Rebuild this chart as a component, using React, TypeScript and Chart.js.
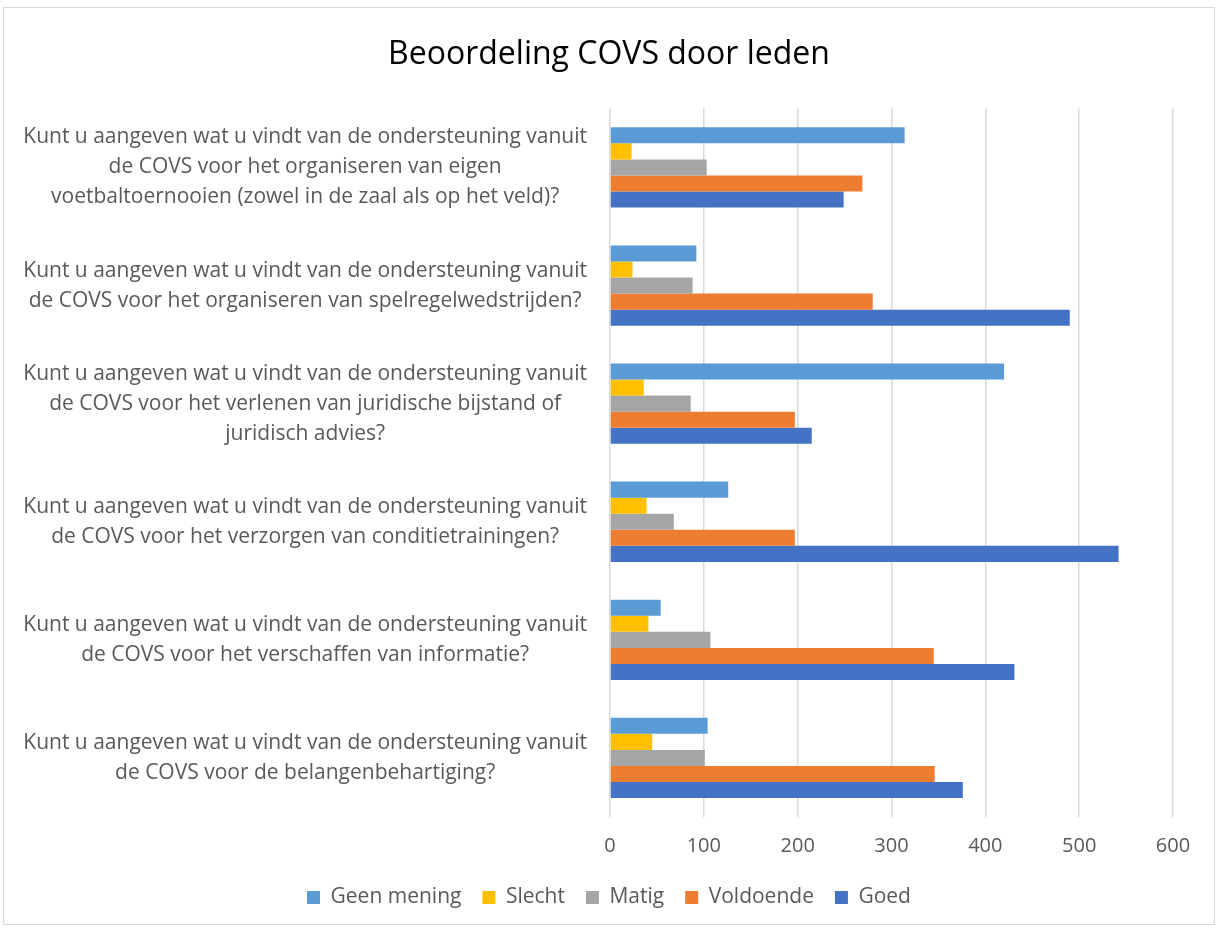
import React, { useEffect, useRef } from "react";
import { Chart, registerables } from "chart.js";

Chart.register(...registerables);

const categories: string[][] = [
  ["Kunt u aangeven wat u vindt van de ondersteuning vanuit", "de COVS voor het organiseren van eigen", "voetbaltoernooien (zowel in de zaal als op het veld)?"],
  ["Kunt u aangeven wat u vindt van de ondersteuning vanuit", "de COVS voor het organiseren van spelregelwedstrijden?"],
  ["Kunt u aangeven wat u vindt van de ondersteuning vanuit", "de COVS voor het verlenen van juridische bijstand of", "juridisch advies?"],
  ["Kunt u aangeven wat u vindt van de ondersteuning vanuit", "de COVS voor het verzorgen van conditietrainingen?"],
  ["Kunt u aangeven wat u vindt van de ondersteuning vanuit", "de COVS voor het verschaffen van informatie?"],
  ["Kunt u aangeven wat u vindt van de ondersteuning vanuit", "de COVS voor de belangenbehartiging?"],
];

const seriesNames = ["Geen mening", "Slecht", "Matig", "Voldoende", "Goed"];
const geenMening = [314, 92, 420, 126, 54, 104];
const slecht = [23, 24, 36, 39, 41, 45];
const matig = [103, 88, 86, 68, 107, 101];
const voldoende = [269, 280, 197, 197, 345, 346];
const goed = [249, 490, 215, 542, 431, 376];
const colors = ["#5B9BD5", "#FFC000", "#A5A5A5", "#ED7D31", "#4472C4"];

const xMin = 0;
const xMax = 600;
const xStep = 100;

const FONT = "'Open Sans', 'Noto Sans', sans-serif";

const PAD_LEFT = 41;
const CANVAS_LEFT = 4;
const PLOT_LEFT = 610;

export default function App() {
  const ref = useRef<HTMLCanvasElement | null>(null);
  useEffect(() => {
    if (!ref.current) return;
    const values = [geenMening, slecht, matig, voldoende, goed];
    const chart = new Chart(ref.current, {
      type: "bar",
      data: {
        labels: categories,
        datasets: seriesNames.map((name, i) => ({
          label: name,
          data: values[i],
          backgroundColor: colors[i],
          borderWidth: 0,
          categoryPercentage: 0.68,
          barPercentage: 1.0,
        })),
      },
      options: {
        indexAxis: "y",
        animation: false,
        responsive: true,
        maintainAspectRatio: false,
        layout: { padding: { left: PAD_LEFT, right: 41, top: 20, bottom: 6 } },
        plugins: {
          title: {
            display: true,
            text: "Beoordeling COVS door leden",
            color: "#000000",
            font: { family: FONT, size: 32, weight: "normal" },
            padding: { top: 8, bottom: 34 },
          },
          legend: {
            position: "bottom",
            labels: {
              color: "#595959",
              font: { family: FONT, size: 21 },
              boxWidth: 13,
              boxHeight: 13,
              padding: 21,
            },
          },
          tooltip: { enabled: false },
        },
        scales: {
          x: {
            min: xMin,
            max: xMax,
            afterFit: (scale: any) => {
              scale.height -= 9;
            },
            ticks: {
              stepSize: xStep,
              color: "#595959",
              font: { family: FONT, size: 20 },
              padding: 17,
            },
            grid: { color: "#D9D9D9", lineWidth: 1.5, drawTicks: false },
            border: { display: false },
          },
          y: {
            afterFit: (scale: any) => {
              scale.width = PLOT_LEFT - CANVAS_LEFT - PAD_LEFT;
              // let the long category labels extend past the axis box
              scale._computeLabelArea = () => undefined;
            },
            ticks: {
              color: "#595959",
              font: { family: FONT, size: 21, lineHeight: 1.43 },
              crossAlign: "center",
              padding: 23,
            },
            grid: { display: false, drawTicks: false },
            border: { display: false },
          },
        },
      },
    });
    return () => chart.destroy();
  }, []);

  return (
    <div style={{ position: "absolute", left: 0, top: 0, width: 1217, height: 928, background: "#fff" }}>
      <div
        style={{
          position: "absolute",
          left: 3,
          top: 7,
          width: 1212,
          height: 918,
          border: "1px solid #D9D9D9",
          boxSizing: "border-box",
        }}
      />
      <div style={{ position: "absolute", left: CANVAS_LEFT, top: 8, width: 1210, height: 916 }}>
        <canvas ref={ref} />
      </div>
    </div>
  );
}
